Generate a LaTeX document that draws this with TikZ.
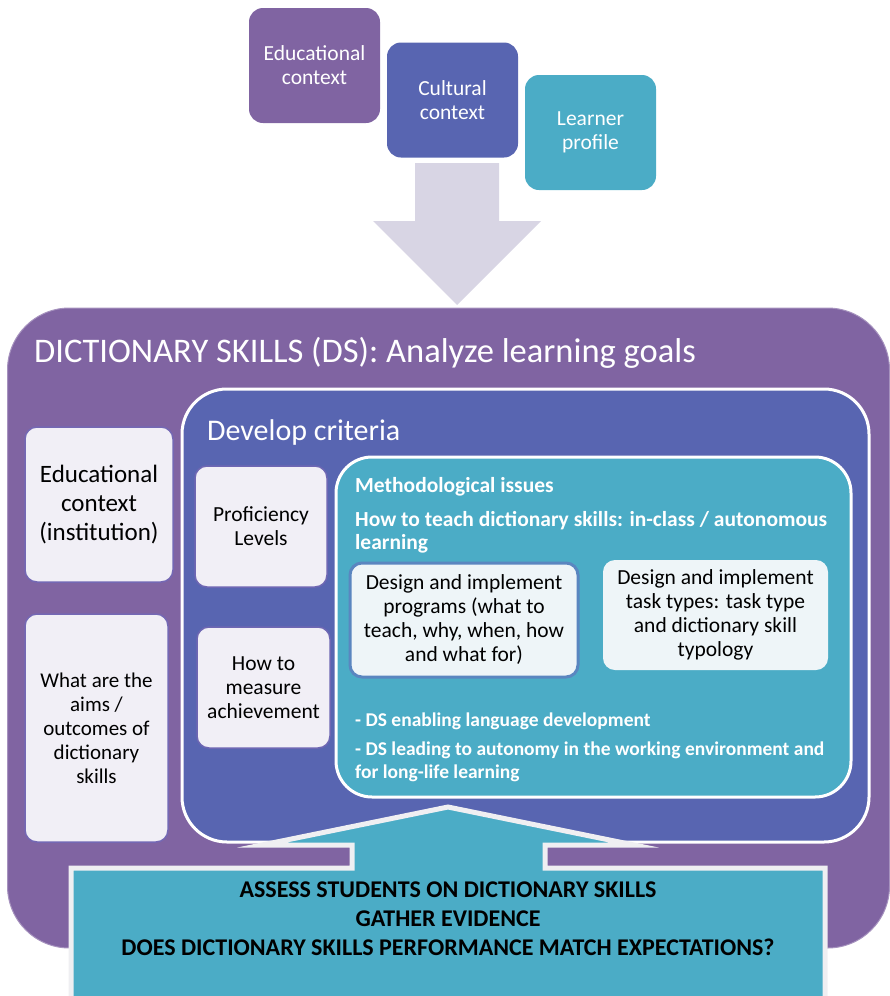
\documentclass[tikz,border=0pt]{standalone}
\usepackage{fontspec}
\setmainfont{Carlito}
\definecolor{cpurple}{HTML}{8064A2}
\definecolor{cblue}{HTML}{5865B1}
\definecolor{cteal}{HTML}{4BACC6}
\definecolor{carrow}{HTML}{D8D5E4}
\definecolor{cpale}{HTML}{F1EFF6}
\definecolor{cice}{HTML}{EEF5F8}
\definecolor{cedge}{HTML}{5A86C0}
\definecolor{cglow}{HTML}{7468B4}
\definecolor{coutline}{HTML}{EFEFF2}
\newcommand{\fs}[2]{\fontsize{#1}{#2}\selectfont}
\begin{document}
\begin{tikzpicture}[x=1pt,y=-1pt,
  topbox/.style={rounded corners=14pt, text=white, align=center,
    minimum width=131pt, minimum height=115pt, inner sep=0pt, font=\fs{21.5}{24}},
  palebox/.style={rounded corners=12pt, fill=cpale, draw=cglow, line width=1.5pt,
    text=black, align=center, inner sep=0pt},
  icebox/.style={rounded corners=12pt, fill=cice, text=black, align=center,
    inner sep=0pt, font=\fs{21.5}{24}},
  frame/.style={draw=white, line width=3pt},
  wtext/.style={text=white, inner sep=0pt, anchor=base west},
  btext/.style={text=black, inner sep=0pt, anchor=base, font=\fs{24}{29}\bfseries}
]
\useasboundingbox (0,0) rectangle (889,996);

% context boxes along the top
\node[topbox, fill=cpurple] (edu) at (314.5,65.5) {Educational\\context};
\node[topbox, fill=cblue] (cult) at (452.5,100) {Cultural\\context};
\node[topbox, fill=cteal] (learner) at (590.5,132.5) {Learner\\profile};

% main frame
\node[draw=cpurple!70!white, line width=1pt, fill=cpurple, rounded corners=62pt,
  minimum width=882pt, minimum height=640pt, inner sep=0pt] (ds) at (448.5,628) {};
\node[wtext, font=\fs{34.5}{40}] (dstitle) at (34,362) {DICTIONARY SKILLS (DS): Analyze learning goals};

% broad arrow from the context boxes into the frame
\fill[carrow] (415,163) -- (499,163) -- (499,221) -- (541,221) -- (457,305)
  -- (373,221) -- (415,221) -- cycle;

% left column
\node[palebox, minimum width=148pt, minimum height=155pt, font=\fs{25}{29}] (inst)
  at (99,504.5) {Educational\\context\\(institution)};
\node[palebox, minimum width=143pt, minimum height=228pt, font=\fs{21}{24}] (aims)
  at (96.5,728) {What are the\\aims /\\outcomes of\\dictionary\\skills};

% develop criteria panel
\node[frame, fill=cblue, rounded corners=45pt, minimum width=687pt,
  minimum height=453pt, inner sep=0pt] (crit) at (525.5,615.5) {};
\node[wtext, font=\fs{30}{34}] (crittitle) at (207,440) {Develop criteria};

\node[palebox, draw=cglow!80!cblue, minimum width=132pt, minimum height=121pt,
  font=\fs{21.5}{24}] (prof) at (261,526.5) {Proficiency\\Levels};
\node[palebox, draw=cglow!80!cblue, minimum width=133pt, minimum height=121pt,
  font=\fs{21.5}{24}] (meas) at (263.5,687.5) {How to\\measure\\achievement};

% methodological issues panel
\node[frame, fill=cteal, rounded corners=36pt, minimum width=515pt,
  minimum height=340pt, inner sep=0pt] (meth) at (593.5,627) {};
\node[wtext, font=\fs{21.5}{23}\bfseries] (m1) at (355,492) {Methodological issues};
\node[wtext, font=\fs{21.5}{23}\bfseries] (m2) at (355,526) {How to teach dictionary skills: in-class / autonomous};
\node[wtext, font=\fs{21.5}{23}\bfseries] (m3) at (355,549) {learning};

\node[icebox, draw=cedge, line width=3pt, minimum width=228pt, minimum height=114pt]
  (prog) at (464,620) {Design and implement\\programs (what to\\teach, why, when, how\\and what for)};
\node[icebox, minimum width=225pt, minimum height=110pt]
  (task) at (715.5,615) {Design and implement\\task types: task type\\and dictionary skill\\typology};

\node[wtext, font=\fs{19.5}{23}\bfseries] (b1) at (355,726) {- DS enabling language development};
\node[wtext, font=\fs{19.5}{23}\bfseries] (b2) at (355,755) {- DS leading to autonomy in the working environment and};
\node[wtext, font=\fs{19.5}{23}\bfseries] (b3) at (355,778) {for long-life learning};

% assessment block with upward arrow
\filldraw[fill=cteal, draw=coutline, line width=5pt, line join=miter]
  (71,868) -- (352,868) -- (352,845) -- (262,845) -- (448,807) -- (634,845)
  -- (545,845) -- (545,868) -- (825,868) -- (825,1005) -- (71,1005) -- cycle;
\node[btext] (a1) at (448,897) {ASSESS STUDENTS ON DICTIONARY SKILLS};
\node[btext] (a2) at (448,926) {GATHER EVIDENCE};
\node[btext] (a3) at (448,955) {DOES DICTIONARY SKILLS PERFORMANCE MATCH EXPECTATIONS?};
\end{tikzpicture}
\end{document}
